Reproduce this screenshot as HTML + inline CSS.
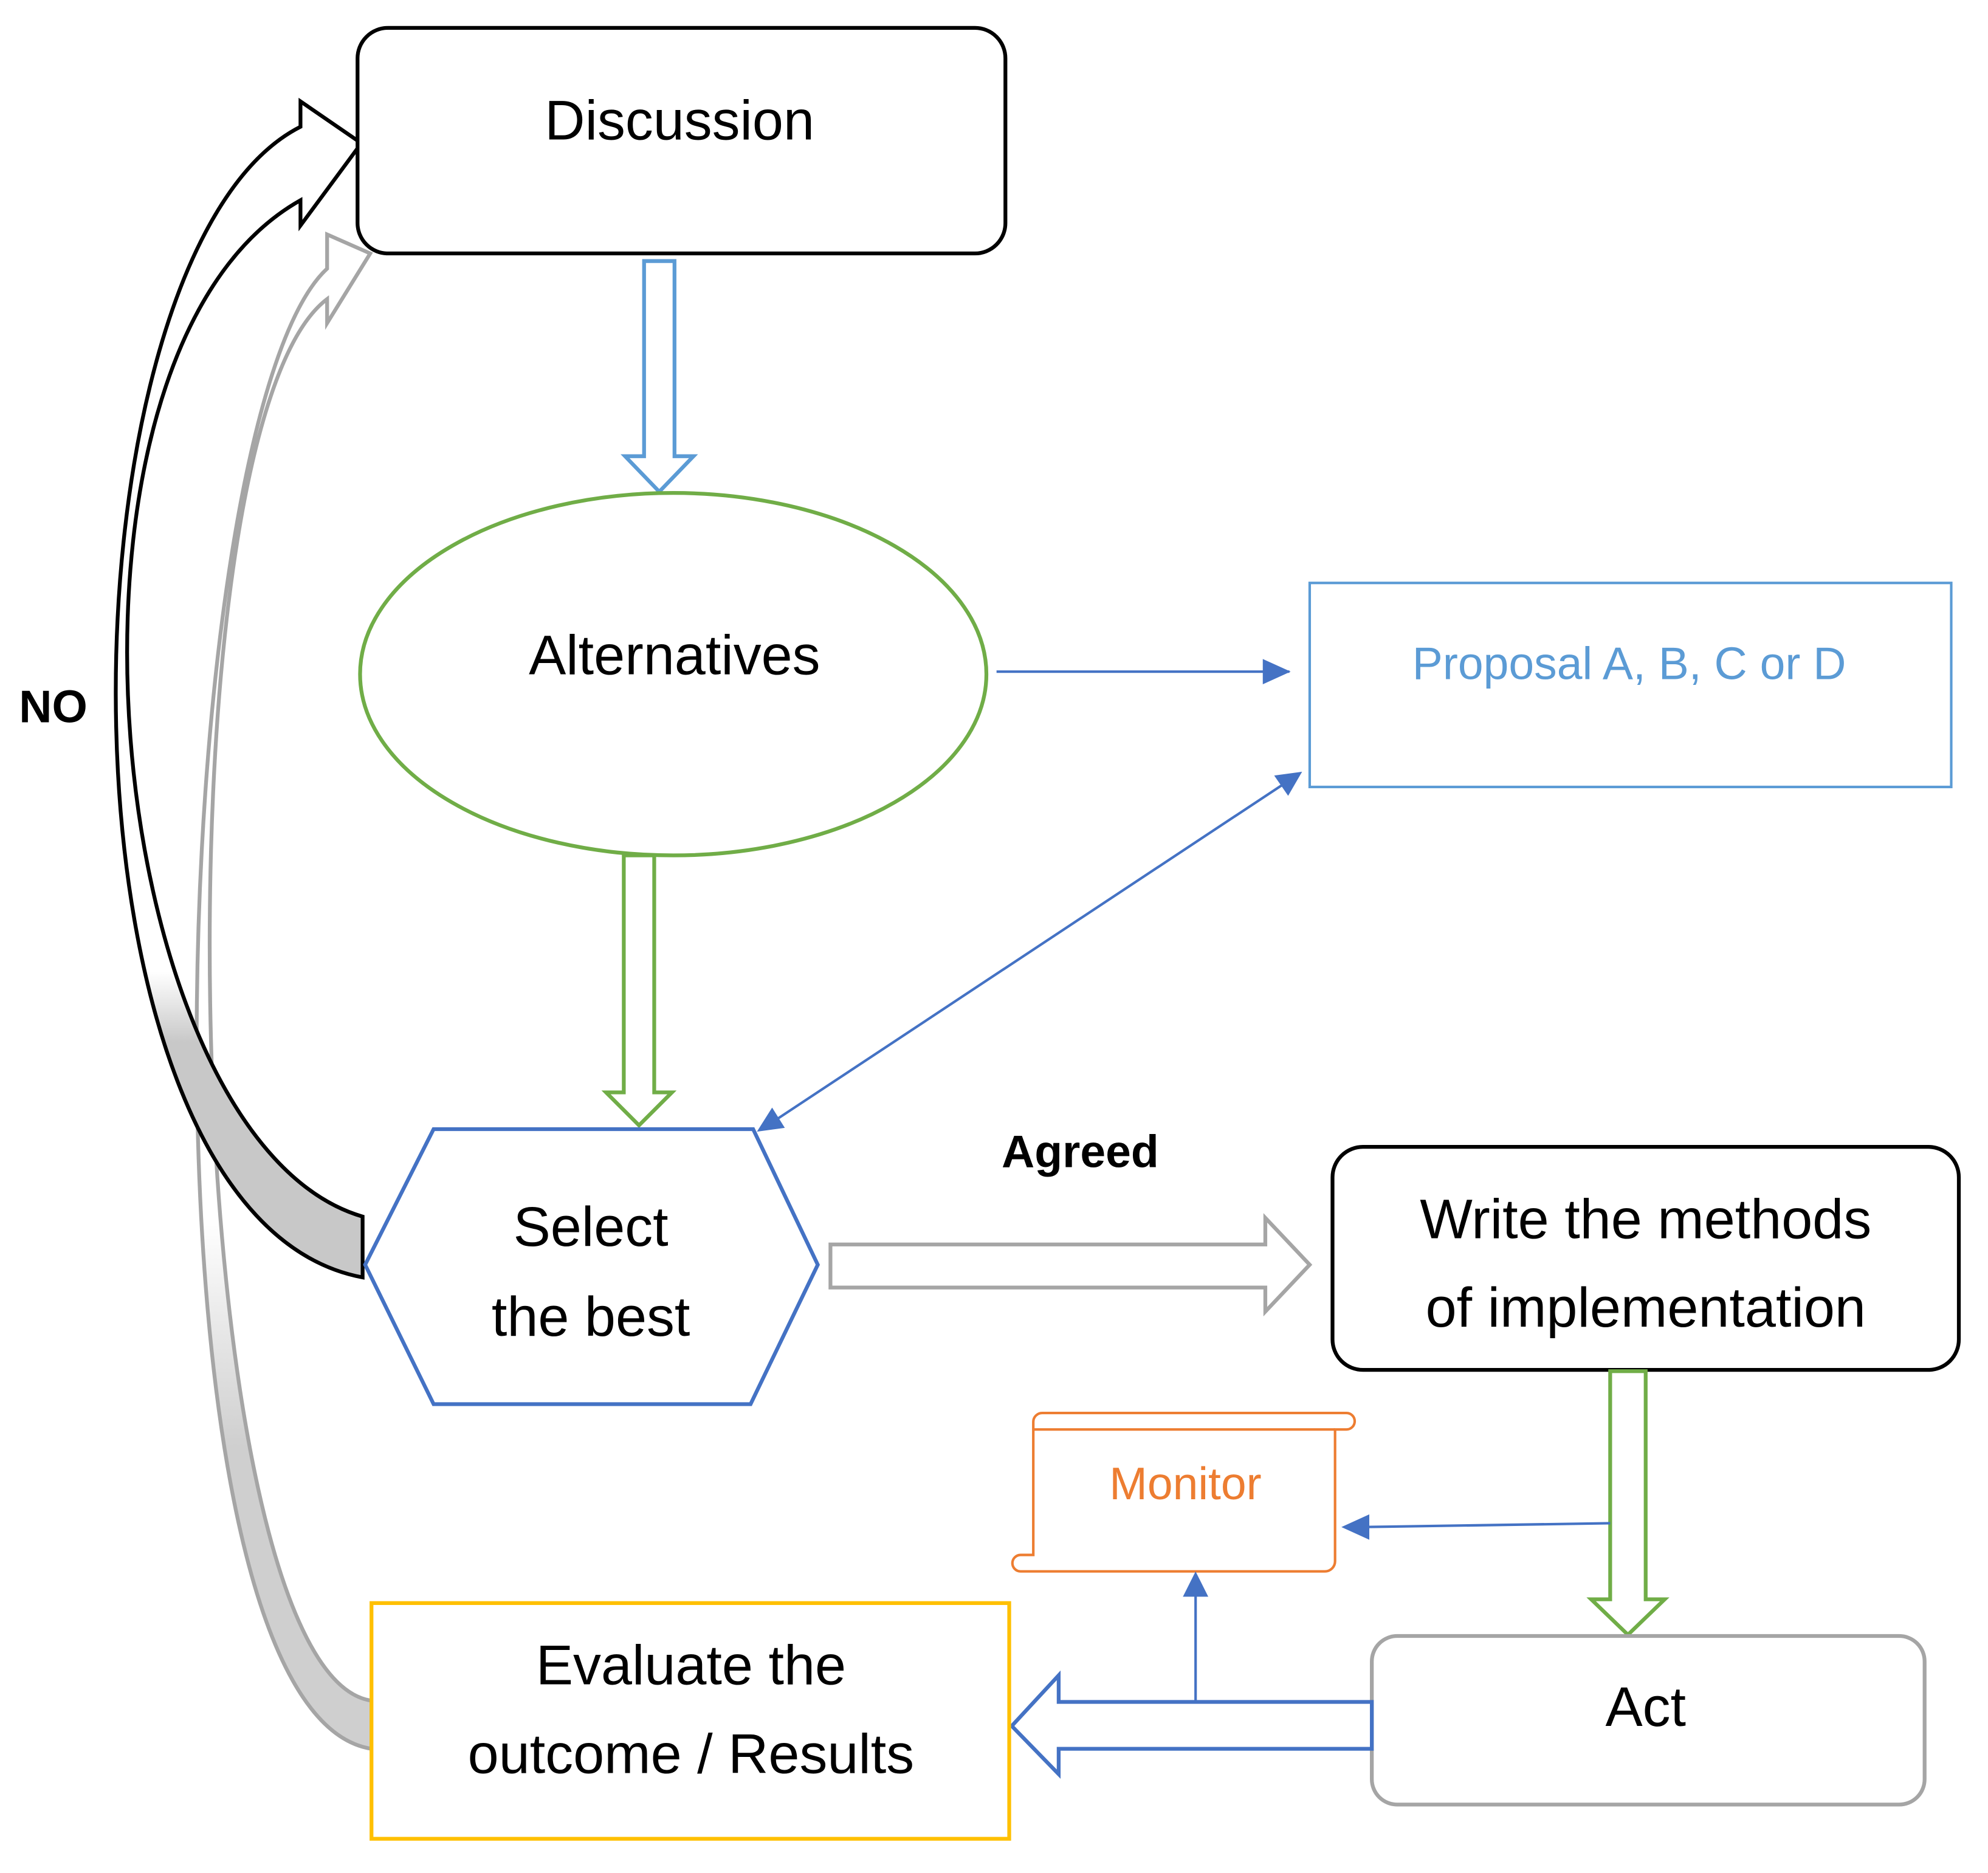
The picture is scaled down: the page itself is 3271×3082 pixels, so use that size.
<!DOCTYPE html>
<html><head><meta charset="utf-8"><style>
html,body{margin:0;padding:0;background:#fff;}
svg{display:block;}
text{font-family:"Liberation Sans","DejaVu Sans",sans-serif;}
</style></head><body>
<svg width="3271" height="3082" viewBox="0 0 1568 1478" preserveAspectRatio="none" xmlns="http://www.w3.org/2000/svg">
<defs>
<linearGradient id="gb" x1="0" y1="0" x2="0" y2="1">
<stop offset="0" stop-color="#fff"/><stop offset="0.74" stop-color="#fff"/><stop offset="0.8" stop-color="#c8c8c8"/><stop offset="1" stop-color="#c8c8c8"/></linearGradient>
<linearGradient id="gg" x1="0" y1="0" x2="0" y2="1">
<stop offset="0" stop-color="#fff"/><stop offset="0.65" stop-color="#fff"/><stop offset="0.8" stop-color="#cfcfcf"/><stop offset="1" stop-color="#cfcfcf"/></linearGradient>
</defs>
<rect width="1568" height="1478" fill="#fff"/>

<!-- gray curved arrow -->
<path d="M293,1380 C100,1350 130,330 258,212 L258,185 L292,200 L258,255 L258,236 C120,340 140,1320 293,1342 Z" fill="url(#gg)" stroke="#a5a5a5" stroke-width="3"/>
<!-- black curved arrow -->
<path d="M286,1008 C30,960 40,200 237,100 L237,80 L285,113 L237,178 L237,158 C20,280 80,900 286,960 Z" fill="url(#gb)" stroke="#000" stroke-width="3"/>

<!-- Discussion -->
<rect x="282" y="22" width="511" height="178" rx="24" fill="#fff" stroke="#000" stroke-width="3"/>
<text x="536" y="110" font-size="44" text-anchor="middle">Discussion</text>

<path d="M508,206 L532,206 L532,360 L547,360 L520,388 L493,360 L508,360 Z" fill="#fff" stroke="#5b9bd5" stroke-width="3"/>

<ellipse cx="531" cy="532" rx="247" ry="143" fill="#fff" stroke="#70ad47" stroke-width="3"/>
<text x="532" y="532" font-size="44" text-anchor="middle">Alternatives</text>

<line x1="786" y1="530" x2="1017" y2="530" stroke="#4472c4" stroke-width="2"/>
<path d="M996,520 L1018,530 L996,540 Z" fill="#4472c4"/>

<rect x="1033" y="460" width="506" height="161" fill="#fff" stroke="#5b9bd5" stroke-width="2"/>
<text x="1285" y="536" font-size="36" fill="#5b9bd5" text-anchor="middle">Proposal A, B, C or D</text>

<line x1="1015" y1="617" x2="610" y2="885" stroke="#4472c4" stroke-width="2"/>
<path d="M1027,609 L1005,612 L1016,628 Z" fill="#4472c4"/>
<path d="M597,893 L609,874 L619,890 Z" fill="#4472c4"/>

<path d="M492,675 L516,675 L516,862 L530,862 L504,888 L478,862 L492,862 Z" fill="#fff" stroke="#70ad47" stroke-width="3"/>

<polygon points="342,891 594,891 645,998 592,1108 342,1108 288,998" fill="#fff" stroke="#4472c4" stroke-width="3"/>
<text x="466" y="983" font-size="44" text-anchor="middle">Select</text>
<text x="466" y="1054" font-size="44" text-anchor="middle">the best</text>

<text x="852" y="921" font-size="36" font-weight="bold" text-anchor="middle">Agreed</text>
<text x="42" y="570" font-size="36" font-weight="bold" text-anchor="middle">NO</text>

<path d="M655,982 L998,982 L998,961 L1033,998 L998,1035 L998,1016 L655,1016 Z" fill="#fff" stroke="#a5a5a5" stroke-width="3"/>

<rect x="1051" y="905" width="494" height="176" rx="24" fill="#fff" stroke="#000" stroke-width="3"/>
<text x="1298" y="977" font-size="44" text-anchor="middle">Write the methods</text>
<text x="1298" y="1047" font-size="44" text-anchor="middle">of implementation</text>

<path d="M1270,1082 L1298,1082 L1298,1262 L1313,1262 L1284,1290 L1255,1262 L1270,1262 Z" fill="#fff" stroke="#70ad47" stroke-width="3"/>

<line x1="1270" y1="1202" x2="1075" y2="1205" stroke="#4472c4" stroke-width="2"/>
<path d="M1058,1205 L1080,1195 L1080,1215 Z" fill="#4472c4"/>

<path d="M822,1115 L1062,1115 A6,6 0 0 1 1062,1128 L1053,1128 L1053,1232 A8,8 0 0 1 1045,1240 L805,1240 A6,6 0 0 1 805,1227 L815,1227 L815,1122 A7,7 0 0 1 822,1115 Z" fill="#fff" stroke="#ed7d31" stroke-width="2"/>
<path d="M815,1128 L1053,1128" stroke="#ed7d31" stroke-width="2"/>
<text x="935" y="1183" font-size="36" fill="#ed7d31" text-anchor="middle">Monitor</text>

<rect x="1082" y="1291" width="436" height="133" rx="20" fill="#fff" stroke="#a5a5a5" stroke-width="3"/>
<text x="1298" y="1362" font-size="44" text-anchor="middle">Act</text>

<path d="M1082,1343 L835,1343 L835,1322 L798,1362 L835,1400 L835,1380 L1082,1380 Z" fill="#fff" stroke="#4472c4" stroke-width="3"/>
<line x1="943" y1="1343" x2="943" y2="1258" stroke="#4472c4" stroke-width="2"/>
<path d="M943,1240 L933,1260 L953,1260 Z" fill="#4472c4"/>

<rect x="293" y="1265" width="503" height="186" fill="#fff" stroke="#ffc000" stroke-width="3"/>
<text x="545" y="1329" font-size="44" text-anchor="middle">Evaluate the</text>
<text x="545" y="1399" font-size="44" text-anchor="middle">outcome / Results</text>
</svg>
</body></html>
